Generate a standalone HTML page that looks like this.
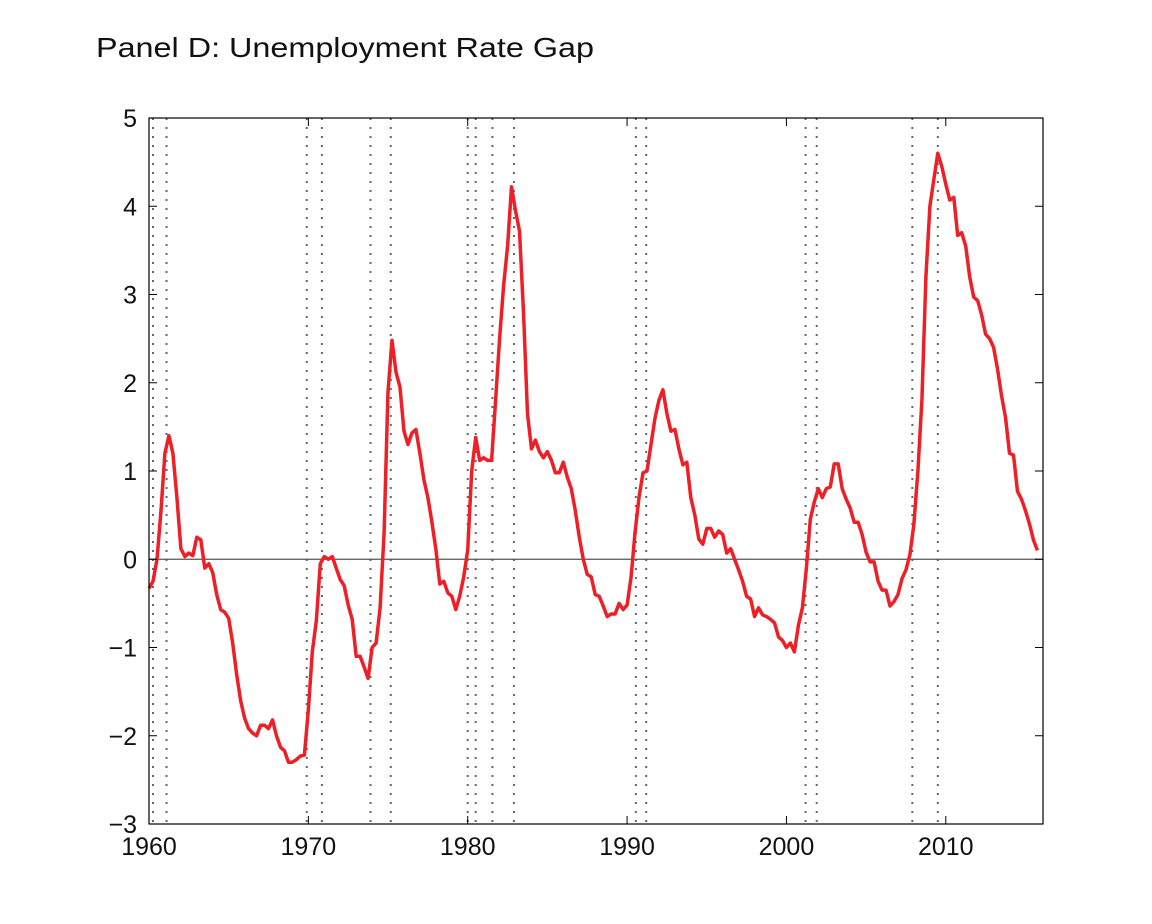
<!DOCTYPE html>
<html><head><meta charset="utf-8"><style>
html,body{margin:0;padding:0;background:#fff;}
svg text{font-family:"Liberation Sans",sans-serif;fill:#111;}
</style></head><body>
<svg id="chart" width="1152" height="919" viewBox="0 0 1152 919" xmlns="http://www.w3.org/2000/svg">
<text x="96" y="57" font-size="28" textLength="498" lengthAdjust="spacingAndGlyphs">Panel D: Unemployment Rate Gap</text>
<g id="recessions"></g>
<g id="zero"></g>
<g id="series"></g>
<g id="axes"></g>
</svg>
<script>
const startYear = 1960;
const gapValues = [
-0.33,-0.25,0.0,0.55, 1.2,1.4,1.2,0.7, 0.12,0.03,0.07,0.04, 0.25,0.22,-0.1,-0.05,
-0.15,-0.4,-0.57,-0.6, -0.67,-0.95,-1.3,-1.6, -1.8,-1.92,-1.97,-2.0, -1.88,-1.88,-1.92,-1.82,
-2.0,-2.13,-2.17,-2.3, -2.3,-2.27,-2.23,-2.22, -1.7,-1.05,-0.7,-0.05, 0.03,0.0,0.03,-0.1,
-0.23,-0.3,-0.52,-0.68, -1.1,-1.1,-1.22,-1.35, -1.0,-0.95,-0.55,0.3, 1.9,2.48,2.12,1.95,
1.45,1.3,1.43,1.47, 1.2,0.9,0.7,0.42, 0.12,-0.28,-0.25,-0.38, -0.42,-0.57,-0.42,-0.2,
0.1,1.0,1.38,1.12, 1.15,1.12,1.12,1.8, 2.5,3.1,3.55,4.22, 3.95,3.72,2.8,1.65,
1.25,1.35,1.22,1.15, 1.22,1.12,0.98,0.98, 1.1,0.93,0.8,0.55, 0.25,0.0,-0.17,-0.2,
-0.4,-0.42,-0.53,-0.65, -0.62,-0.62,-0.5,-0.57, -0.52,-0.2,0.3,0.7, 0.98,1.0,1.3,1.6,
1.8,1.92,1.65,1.45, 1.47,1.25,1.07,1.1, 0.7,0.5,0.23,0.17, 0.35,0.35,0.25,0.32,
0.28,0.07,0.12,0.0, -0.12,-0.25,-0.42,-0.45, -0.65,-0.55,-0.63,-0.65, -0.68,-0.72,-0.88,-0.92,
-1.0,-0.95,-1.05,-0.75, -0.55,-0.1,0.45,0.65, 0.8,0.7,0.8,0.82, 1.08,1.08,0.8,0.68,
0.58,0.42,0.42,0.28, 0.08,-0.03,-0.03,-0.25, -0.35,-0.35,-0.53,-0.48, -0.4,-0.22,-0.12,0.05,
0.4,1.0,1.8,3.2, 4.0,4.3,4.6,4.45, 4.25,4.07,4.1,3.67, 3.7,3.55,3.2,2.97,
2.93,2.77,2.55,2.5, 2.4,2.15,1.85,1.6, 1.2,1.18,0.77,0.68, 0.55,0.4,0.22,0.1
];
const recessionDates = [1960.25,1961.1,1969.9,1970.85,1973.9,1975.17,1980.0,1980.5,1981.55,1982.9,1990.55,1991.2,2001.2,2001.9,2007.9,2009.5];
const xTicks = [1960,1970,1980,1990,2000,2010];
const yTicks = [-3,-2,-1,0,1,2,3,4,5];
const yTickLabels = ["\u22123","\u22122","\u22121","0","1","2","3","4","5"];

const L=149,R=1043,T=118,B=824, X0=1960,X1=2016.1, Y0=-3,Y1=5;
const sx=v=>L+(v-X0)/(X1-X0)*(R-L);
const sy=v=>B-(v-Y0)/(Y1-Y0)*(B-T);
const NS="http://www.w3.org/2000/svg";
function mk(tag,attrs,parent){const e=document.createElementNS(NS,tag);for(const k in attrs)e.setAttribute(k,attrs[k]);parent.appendChild(e);return e;}

const rg=document.getElementById('recessions');
recessionDates.forEach(d=>{
  const l=mk('line',{x1:sx(d),x2:sx(d),y1:T,y2:B,stroke:'#666','stroke-width':2,'stroke-dasharray':'2,7'},rg);
  
  
});
const z=mk('line',{x1:L,x2:R,y1:sy(0),y2:sy(0),stroke:'#555','stroke-width':1.3},document.getElementById('zero'));



const pts=gapValues.map((v,i)=>sx(startYear+i*0.25).toFixed(1)+','+sy(v).toFixed(1)).join(' ');
const pl=mk('polyline',{points:pts,fill:'none',stroke:'#ee1f26','stroke-width':3.5,'stroke-linejoin':'round'},document.getElementById('series'));



const ax=document.getElementById('axes');
const fr=mk('rect',{x:L,y:T,width:R-L,height:B-T,fill:'none',stroke:'#000','stroke-width':1.2},ax);


xTicks.forEach(t=>{
  const x=sx(t);
  mk('line',{x1:x,x2:x,y1:B,y2:B-8,stroke:'#000'},ax);
  mk('line',{x1:x,x2:x,y1:T,y2:T+8,stroke:'#000'},ax);
  const tx=mk('text',{x:x,y:B+31,'font-size':25,'text-anchor':'middle'},ax);
  tx.textContent=t;
  
  
});
yTicks.forEach((t,i)=>{
  const y=sy(t);
  mk('line',{x1:L,x2:L+8,y1:y,y2:y,stroke:'#000'},ax);
  mk('line',{x1:R,x2:R-8,y1:y,y2:y,stroke:'#000'},ax);
  const tx=mk('text',{x:L-12,y:y+9,'font-size':25,'text-anchor':'end'},ax);
  tx.textContent=yTickLabels[i];
  
  
});
</script>
</body></html>
